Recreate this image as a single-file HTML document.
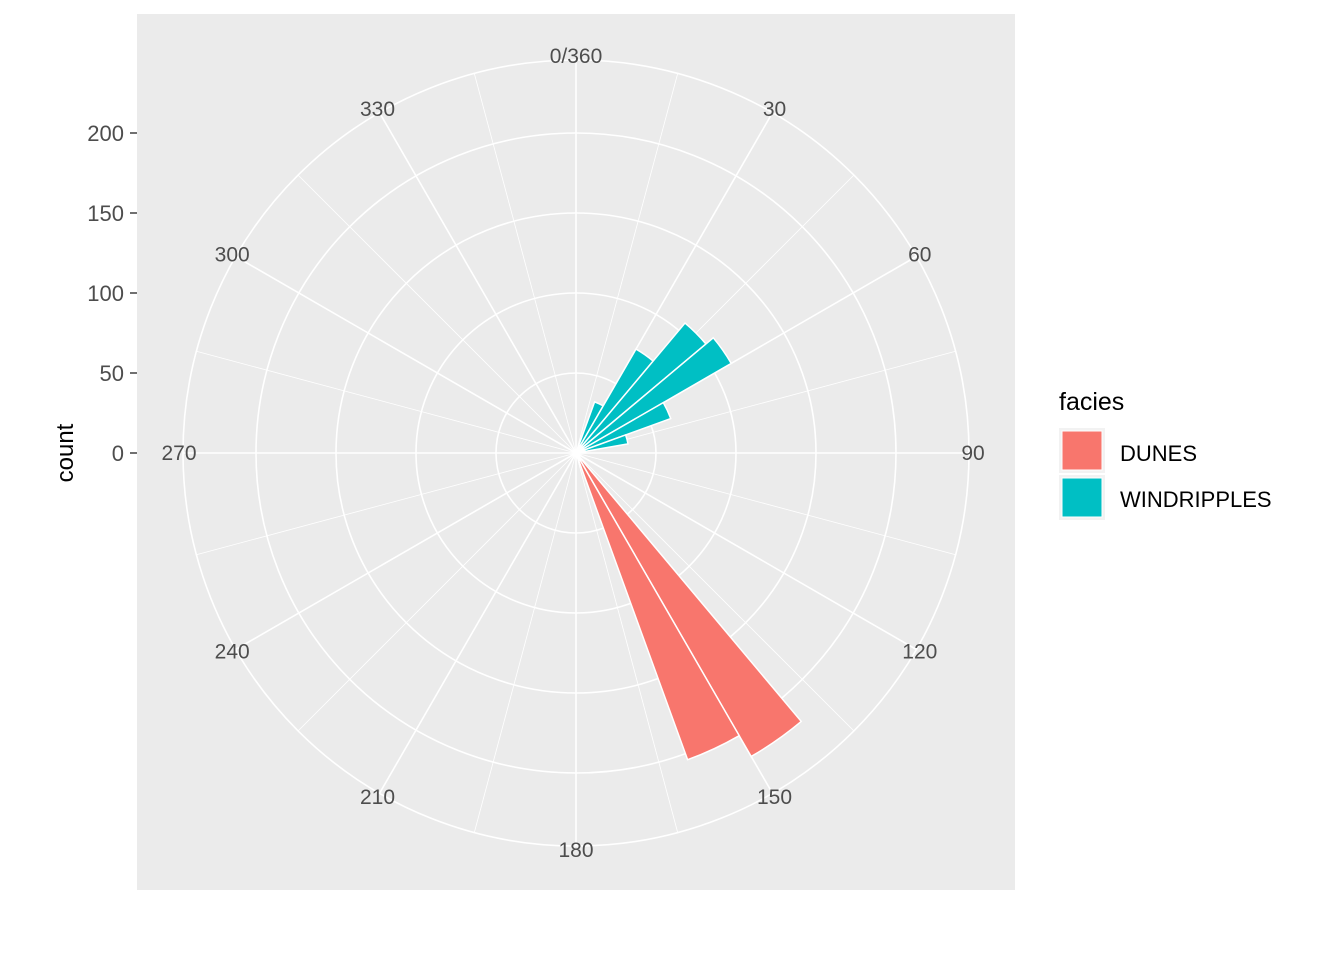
<!DOCTYPE html>
<html><head><meta charset="utf-8"><style>
html,body{margin:0;padding:0;background:#fff;}
svg text{font-family:"Liberation Sans",Arial,sans-serif;}
</style></head><body>
<svg id="chart" width="1344" height="960" xmlns="http://www.w3.org/2000/svg">
<rect x="0" y="0" width="1344" height="960" fill="#fff"/>
<rect x="137" y="14" width="878" height="876" fill="#ebebeb"/>
<g id="grid"></g>
<g id="bars"></g>
<g id="thetaLabels"></g>
<g id="yaxis"></g>
<text x="73" y="453" font-size="24" fill="#000" text-anchor="middle" transform="rotate(-90 73 453)">count</text>
<g>
<text x="1059" y="410" font-size="25" fill="#000">facies</text>
<g>
<rect x="1059" y="428" width="46" height="45" fill="#f2f2f2"/>
<rect x="1062" y="431" width="40" height="39" fill="#F8766D" stroke="#fff" stroke-width="1"/>
<text x="1120" y="461" font-size="22" fill="#000">DUNES</text>
</g>
<g>
<rect x="1059" y="475" width="46" height="45" fill="#f2f2f2"/>
<rect x="1062" y="478" width="40" height="39" fill="#00BFC4" stroke="#fff" stroke-width="1"/>
<text x="1120" y="507" font-size="22" fill="#000">WINDRIPPLES</text>
</g>
</g>
</svg>
<script>
const binStarts = [20,30,40,50,60,70,80,130,140,150,160];
const dunesCounts = [0,0,0,0,0,0,0,3,219,204,3];
const windCounts = [34,75,106,112,63,33,6,0,0,0,0];
const yTicks = [0,50,100,150,200];
const thetaTicks = [0,30,60,90,120,150,180,210,240,270,300,330];
const thetaLabelText = ["0/360","30","60","90","120","150","180","210","240","270","300","330"];
const binWidth = 10;

const NS="http://www.w3.org/2000/svg";
const cx=576, cy=453, pxPerUnit=1.6, outerR=393, labelR=397;
function rScale(v){return v*pxPerUnit;}
function pt(deg,r){const a=deg*Math.PI/180;return [cx+r*Math.sin(a), cy-r*Math.cos(a)];}
function mk(tag,attrs,parent){const e=document.createElementNS(NS,tag);for(const k in attrs)e.setAttribute(k,attrs[k]);parent.appendChild(e);return e;}

const grid=document.getElementById('grid');
yTicks.forEach(t=>{ if(t>0){const c=mk('circle',{cx:cx,cy:cy,r:rScale(t),fill:'none',stroke:'#fff','stroke-width':1.6},grid);

}});
const oc=mk('circle',{cx:cx,cy:cy,r:outerR,fill:'none',stroke:'#fff','stroke-width':1.6},grid);


for(let d=0;d<360;d+=15){const major=d%30===0;const p=pt(d,outerR);
const l=mk('line',{x1:cx,y1:cy,x2:p[0],y2:p[1],stroke:'#fff','stroke-width':major?1.6:0.8},grid);

}

const bars=document.getElementById('bars');
function wedge(a0,a1,r0,r1,fill,name){
  const p0=pt(a0,r0),p1=pt(a0,r1),p2=pt(a1,r1),p3=pt(a1,r0);
  let d=`M${p0[0]},${p0[1]} L${p1[0]},${p1[1]} A${r1},${r1} 0 0 1 ${p2[0]},${p2[1]} L${p3[0]},${p3[1]}`;
  if(r0>0)d+=` A${r0},${r0} 0 0 0 ${p0[0]},${p0[1]}`;
  d+='Z';
  const e=mk('path',{d:d,fill:fill,stroke:'#fff','stroke-width':1.5},bars);
  
  
}
binStarts.forEach((b,i)=>{
  const d=dunesCounts[i], w=windCounts[i];
  if(w>0)wedge(b,b+binWidth,0,rScale(w),'#00BFC4','bar-windripples-'+b);
  if(d>0)wedge(b,b+binWidth,rScale(w),rScale(w+d),'#F8766D','bar-dunes-'+b);
});

const tl=document.getElementById('thetaLabels');
thetaTicks.forEach((t,i)=>{const p=pt(t,labelR);
const e=mk('text',{x:p[0],y:p[1]+7,'font-size':21,fill:'#4d4d4d','text-anchor':'middle'},tl);
e.textContent=thetaLabelText[i];

});

const ya=document.getElementById('yaxis');
yTicks.forEach(t=>{const y=cy-rScale(t);
const l=mk('line',{x1:130,y1:y,x2:137,y2:y,stroke:'#333','stroke-width':1.4},ya);


const e=mk('text',{x:124,y:y+8,'font-size':22,fill:'#4d4d4d','text-anchor':'end'},ya);
e.textContent=t;

});
</script>
</body></html>
